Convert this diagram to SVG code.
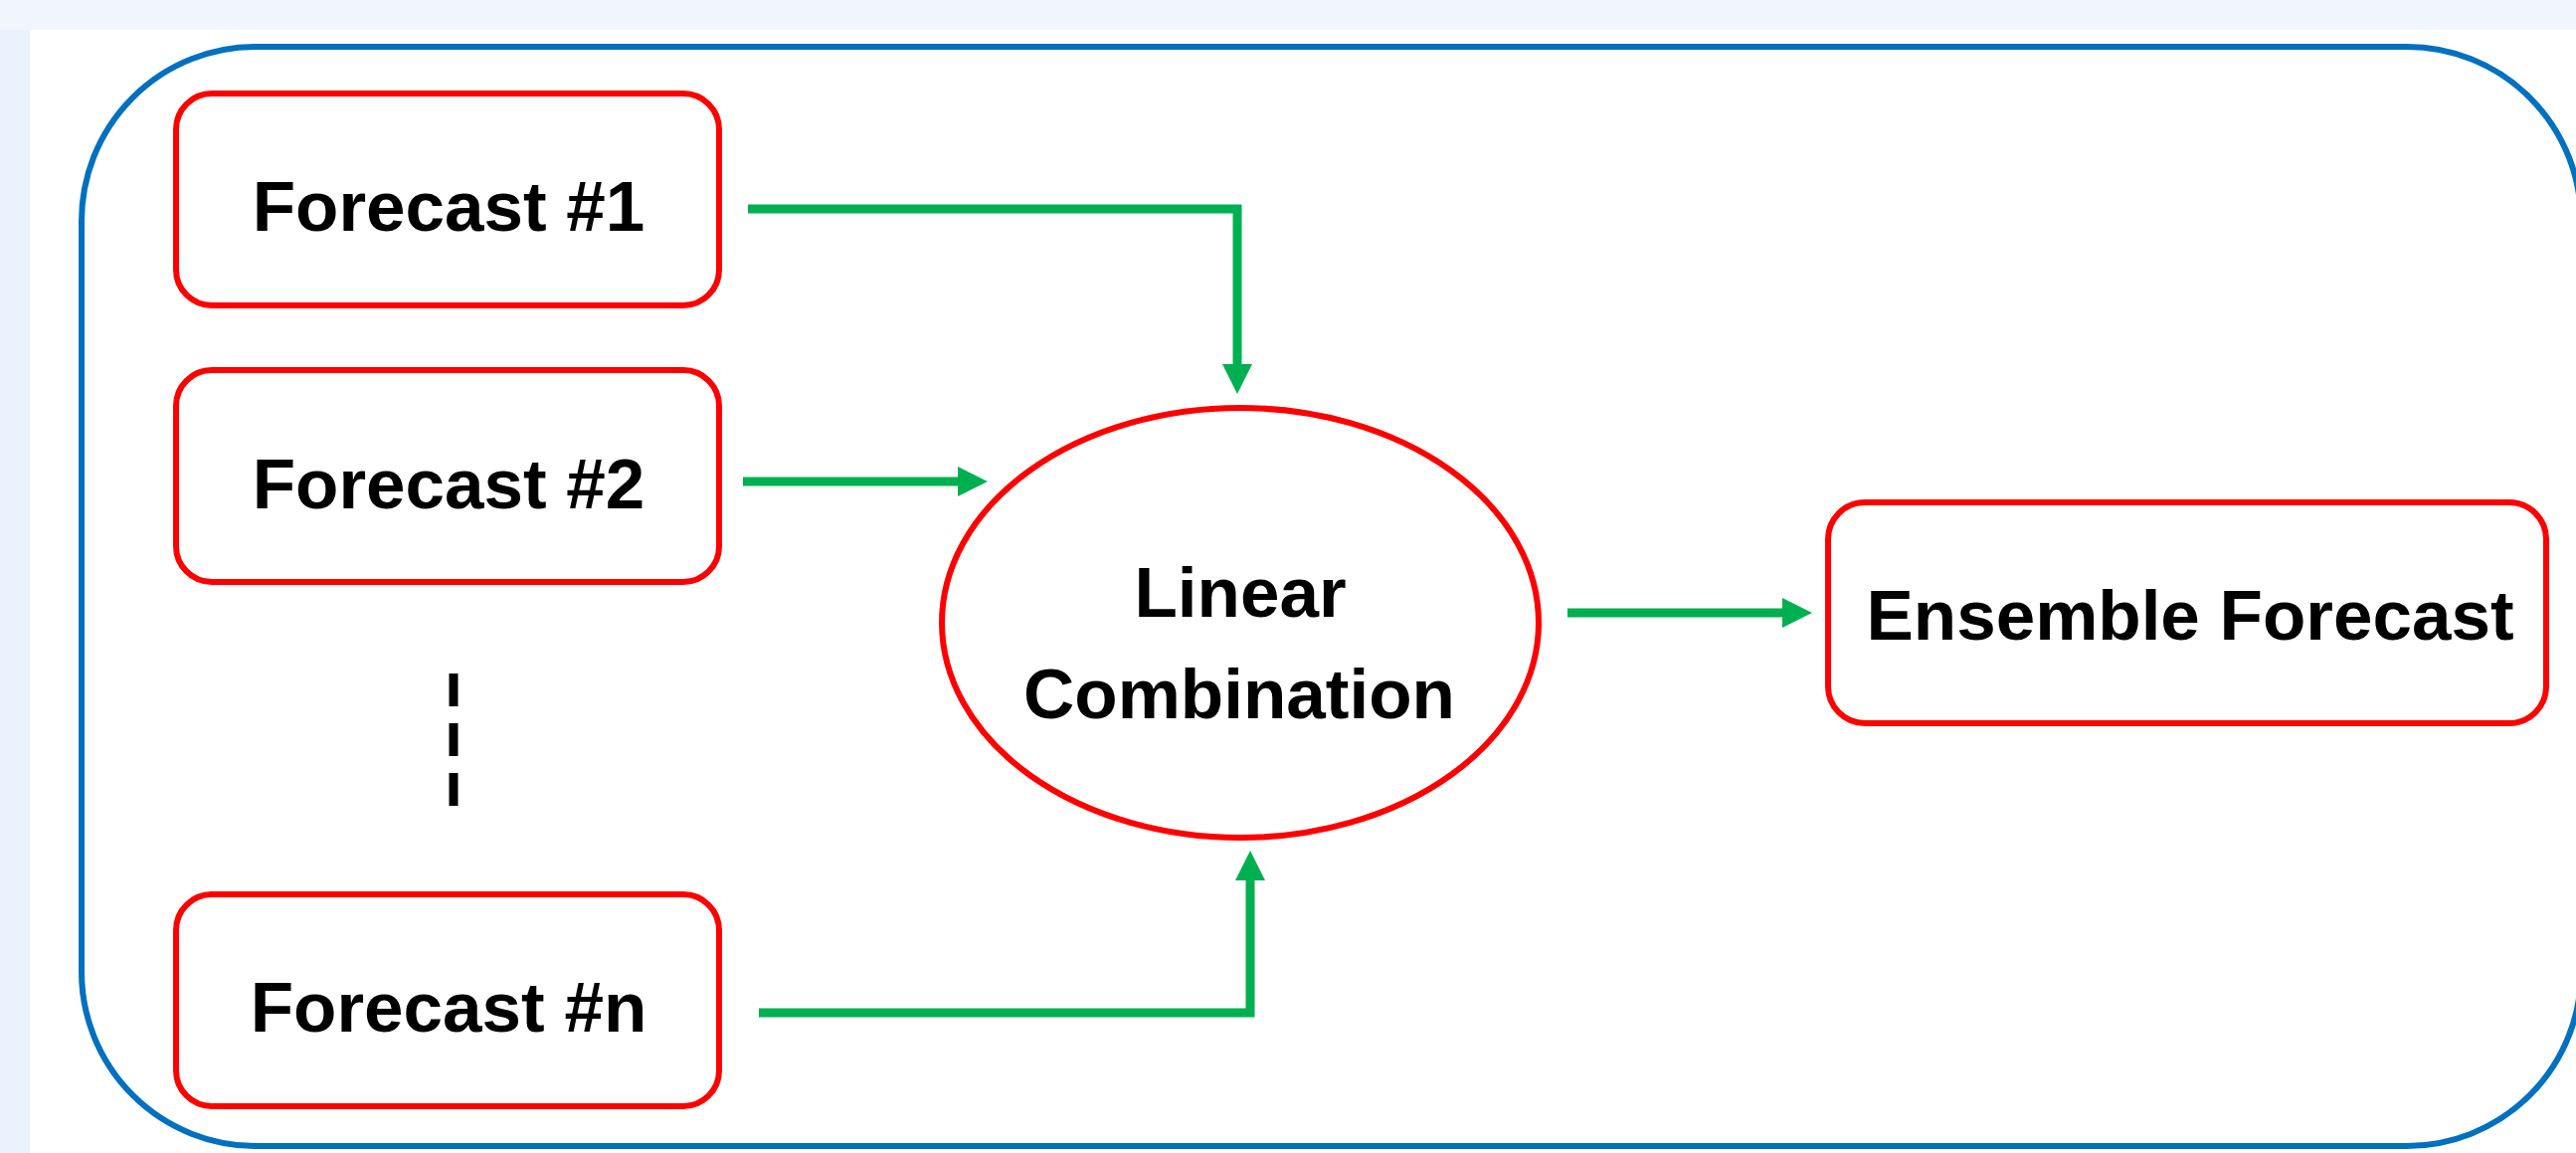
<svg xmlns="http://www.w3.org/2000/svg" width="2590" height="1159" viewBox="0 0 2590 1159">
  <defs>
    <style>
      .box { fill: #ffffff; stroke: #ff0000; stroke-width: 6; }
      .label { font-family: "Liberation Sans", Arial, sans-serif; font-weight: 700; font-size: 71px; fill: #000000; text-anchor: middle; }
      .conn { fill: none; stroke: #00b050; stroke-width: 9; stroke-linejoin: miter; }
    </style>
    <marker id="arrow" markerUnits="userSpaceOnUse" markerWidth="31" markerHeight="30" refX="0" refY="15" orient="auto" viewBox="0 0 31 30">
      <path d="M0,0 L30,15 L0,30 Z" fill="#00b050"/>
    </marker>
  </defs>

  <rect x="0" y="0" width="2590" height="1159" fill="#f1f6fd"/>
  <rect x="0" y="30" width="30" height="1129" fill="#e9f2fc"/>
  <rect x="30" y="30" width="2560" height="1129" fill="#ffffff"/>

  <g id="container">
    <rect x="82" y="47" width="2513" height="1105" rx="175" ry="175" fill="none" stroke="#0070c0" stroke-width="6"/>
  </g>

  <g id="forecast1">
    <rect class="box" x="177" y="94" width="546" height="213" rx="36" ry="36"/>
    <text class="label" x="451" y="232">Forecast #1</text>
  </g>

  <g id="forecast2">
    <rect class="box" x="177" y="372" width="546" height="213" rx="36" ry="36"/>
    <text class="label" x="451" y="511">Forecast #2</text>
  </g>

  <g id="ellipsis">
    <line x1="456" y1="677" x2="456" y2="813" stroke="#000000" stroke-width="9" stroke-dasharray="33 17"/>
  </g>

  <g id="forecastn">
    <rect class="box" x="177" y="899" width="546" height="213" rx="36" ry="36"/>
    <text class="label" x="451" y="1037">Forecast #n</text>
  </g>

  <g id="linear-combination">
    <ellipse class="box" cx="1247" cy="626" rx="300" ry="216"/>
    <text class="label" x="1247" y="620">Linear</text>
    <text class="label" x="1246" y="722">Combination</text>
  </g>

  <g id="ensemble">
    <rect class="box" x="1838" y="505" width="722" height="222" rx="37" ry="37"/>
    <text class="label" x="2202" y="643">Ensemble Forecast</text>
  </g>

  <g id="connectors">
    <path class="conn" d="M752,210 H1244 V366" marker-end="url(#arrow)"/>
    <path class="conn" d="M747,484 H963" marker-end="url(#arrow)"/>
    <path class="conn" d="M763,1018 H1257 V885" marker-end="url(#arrow)"/>
    <path class="conn" d="M1576,616 H1792" marker-end="url(#arrow)"/>
  </g>
</svg>
